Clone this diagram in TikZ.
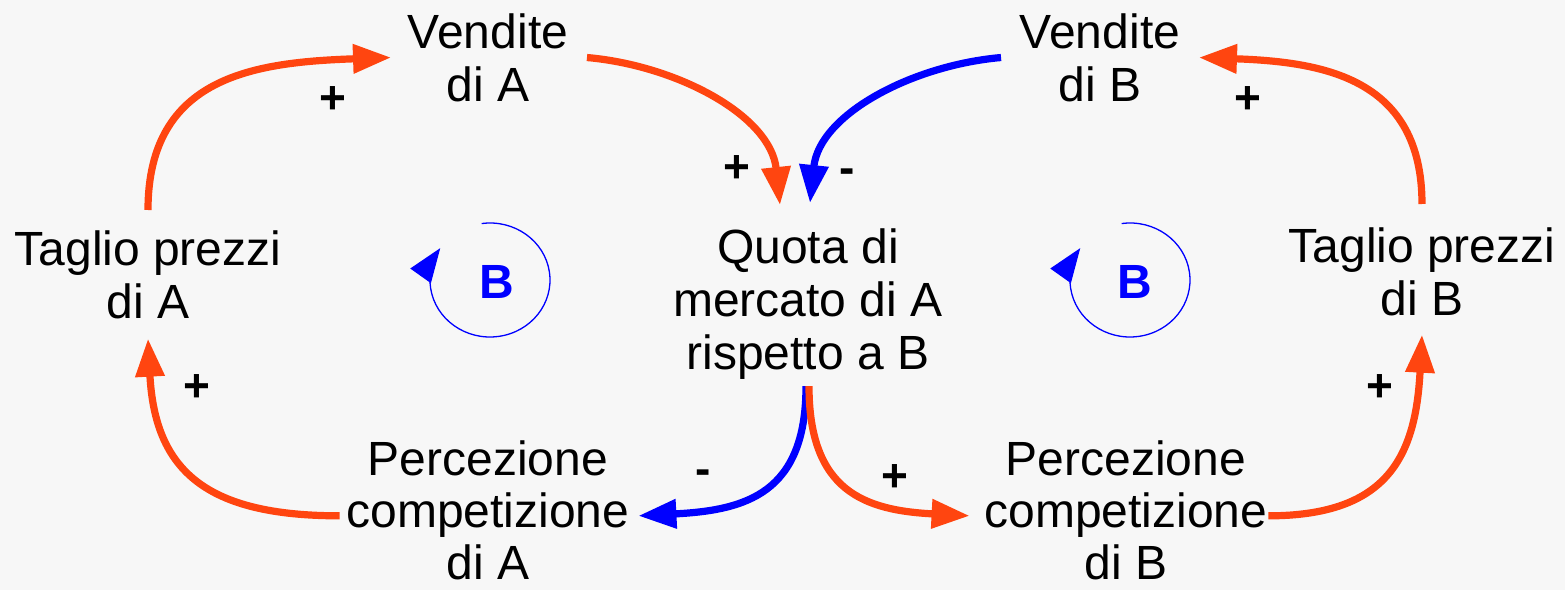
\documentclass[tikz,border=0pt]{standalone}
\usepackage{fontspec}
\setmainfont{Liberation Sans}
\usetikzlibrary{arrows.meta}
\definecolor{linkred}{RGB}{255,69,16}
\definecolor{linkblue}{RGB}{0,0,255}
\definecolor{paper}{RGB}{247,247,247}

\begin{document}
\begin{tikzpicture}[x=0.5pt, y=0.5pt,
  every node/.style={font={\fontsize{24}{26.5}\selectfont}, inner sep=0pt},
  var/.style={align=center, anchor=north},
  lowvar/.style={var, font={\fontsize{24}{26}\selectfont}},
  sign/.style={anchor=base, font={\fontsize{23}{26.5}\selectfont\bfseries}},
  link/.style={line width=3.6pt, -{Triangle[length=19pt, width=14pt]}},
  loopmark/.style={text=linkblue, font={\fontsize{24}{26.5}\selectfont\bfseries}},
  looparc/.style={linkblue, line width=0.65pt, -{Triangle[length=17pt, width=12.5pt]}}]
  \fill[paper] (0,0) rectangle (1565,590);
  \useasboundingbox (0,0) rectangle (1565,590);

  % variables
  \node[var] (va) at (488,577) {Vendite\\di A};
  \node[var] (vb) at (1100,577) {Vendite\\di B};
  \node[var] (tpa) at (148,360) {Taglio prezzi\\di A};
  \node[var] (tpb) at (1422,363) {Taglio prezzi\\di B};
  \node[var] (quota) at (808,362) {Quota di\\mercato di A\\rispetto a B};
  \node[lowvar] (pca) at (488,150) {Percezione\\competizione\\di A};
  \node[lowvar] (pcb) at (1126,150) {Percezione\\competizione\\di B};

  % causal links
  \draw[link, linkred] ([yshift=10pt]tpa.north) to[out=90, in=182, looseness=1.2] ([xshift=-8.25pt]va.west);
  \draw[link, linkred] ([xshift=9.25pt]va.east) to[out=-5, in=96, looseness=0.95] ([xshift=-14pt, yshift=11.5pt]quota.north);
  \draw[link, linkblue] ([xshift=-9.25pt]vb.west) to[out=185, in=84, looseness=0.95] ([xshift=1pt, yshift=12.5pt]quota.north);
  \draw[link, linkred] ([yshift=11.5pt]tpb.north) to[out=90, in=-2, looseness=1.2] ([xshift=9.25pt]vb.east);
  \draw[link, linkblue] ([xshift=-1pt, yshift=-3.3pt]quota.south) to[out=-90, in=3, looseness=1.3] ([xshift=4.3pt, yshift=-2.9pt]pca.east);
  \draw[link, linkred] ([xshift=0.5pt, yshift=-3.3pt]quota.south) to[out=-90, in=177, looseness=1.3] ([xshift=-7.3pt, yshift=-2.9pt]pcb.west);
  \draw[link, linkred] ([xshift=-3.3pt, yshift=-2.9pt]pca.west) to[out=180, in=-87, looseness=1.3] ([yshift=-9.8pt]tpa.south);
  \draw[link, linkred] ([xshift=0.3pt, yshift=-2.9pt]pcb.east) to[out=0, in=-93, looseness=1.3] ([yshift=-9.3pt]tpb.south);

  % polarities
  \node[sign] (s1) at (333,476) {+};
  \node[sign] (s2) at (737,407) {+};
  \node[sign] (s3) at (847,406.5) {-};
  \node[sign] (s4) at (1248,476) {+};
  \node[sign] (s5) at (703,105.5) {-};
  \node[sign] (s6) at (895,99) {+};
  \node[sign] (s7) at (197,189) {+};
  \node[sign] (s8) at (1380,189) {+};

  % balancing loops
  \node[loopmark] (loopa) at (497,308) {B};
  \draw[looparc] ([xshift=-3.5pt, yshift=1pt]loopa.center) ++(98:30pt and 28.5pt)
    arc[start angle=98, end angle=-214, x radius=30pt, y radius=28.5pt];
  \node[loopmark] (loopb) at (1135,308) {B};
  \draw[looparc] ([xshift=-2.5pt, yshift=1pt]loopb.center) ++(98:30pt and 28.5pt)
    arc[start angle=98, end angle=-214, x radius=30pt, y radius=28.5pt];
\end{tikzpicture}
\end{document}
